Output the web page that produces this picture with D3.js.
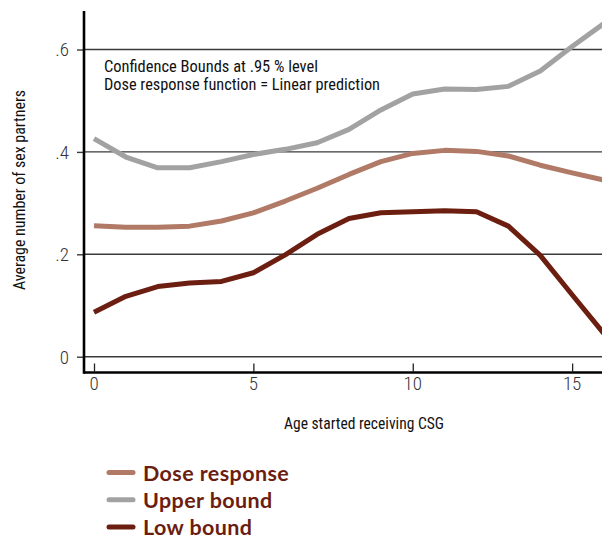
<!DOCTYPE html>
<html>
<head>
<meta charset="utf-8">
<script src="https://cdn.jsdelivr.net/npm/d3@7"></script>
<style>
  html, body { margin: 0; padding: 0; background: #fff; }
  svg { display: block; }
  .narrow { font-family: "Roboto Condensed", "DejaVu Sans Condensed", Roboto, sans-serif; font-stretch: condensed; }
</style>
</head>
<body>
<script>
// Age at which the child support grant (CSG) was first received
const ages = [0, 1, 2, 3, 4, 5, 6, 7, 8, 9, 10, 11, 12, 13, 14, 15, 16];

// Estimated average number of sex partners, with .95 confidence bounds
const doseResponse = [0.256, 0.253, 0.253, 0.255, 0.265, 0.281, 0.304, 0.329, 0.356, 0.381, 0.397, 0.403, 0.401, 0.392, 0.374, 0.359, 0.345];
const upperBound   = [0.426, 0.390, 0.369, 0.369, 0.381, 0.395, 0.405, 0.418, 0.444, 0.482, 0.513, 0.523, 0.522, 0.528, 0.558, 0.606, 0.651];
const lowBound     = [0.087, 0.118, 0.137, 0.144, 0.147, 0.164, 0.199, 0.239, 0.270, 0.281, 0.283, 0.285, 0.283, 0.255, 0.198, 0.121, 0.045];

const xTicks = [0, 5, 10, 15];
const yTicks = [0, 0.2, 0.4, 0.6];
const yTickLabels = ["0", ".2", ".4", ".6"];

const seriesNames = ["Dose response", "Upper bound", "Low bound"];
const seriesColors = ["#b07a67", "#a2a2a2", "#6c1e10"];
const seriesValues = [doseResponse, upperBound, lowBound];

const notes = ["Confidence Bounds at .95 % level", "Dose response function = Linear prediction"];

const W = 602, H = 540;
const svg = d3.select("body").append("svg").attr("width", W).attr("height", H);

const x = d3.scaleLinear().domain([0, 16]).range([94, 604]);
const y = d3.scaleLinear().domain([0, 0.6]).range([356.7, 49.5]);

const axisX = 84, axisY = 372.5, plotTop = 11;

// horizontal gridlines
svg.append("g").selectAll("line").data(yTicks).join("line")
  .attr("x1", axisX).attr("x2", W)
  .attr("y1", d => y(d)).attr("y2", d => y(d))
  .attr("stroke", "#3a3a3a").attr("stroke-width", 1.4);

// y axis with outward ticks
const yAxis = d3.axisLeft(y).tickValues(yTicks)
  .tickFormat((d, i) => yTickLabels[i]).tickSize(7).tickPadding(8);
const gy = svg.append("g").attr("transform", `translate(${axisX},0)`).call(yAxis);
gy.select(".domain").remove();
gy.selectAll(".tick line").attr("stroke", "#3a3a3a").attr("stroke-width", 1.4);
gy.selectAll(".tick text").attr("class", "narrow").attr("font-size", 19)
  .attr("font-weight", 300).attr("fill", "#333").attr("dy", "0.34em");

// x axis with ticks pointing into the plot
const xAxis = d3.axisTop(x).tickValues(xTicks).tickSize(8).tickFormat("");
const gx = svg.append("g").attr("transform", `translate(0,${axisY - 1})`).call(xAxis);
gx.select(".domain").remove();
gx.selectAll(".tick line").attr("stroke", "#222").attr("stroke-width", 1.3);

svg.append("g").selectAll("text").data(xTicks).join("text")
  .attr("class", "narrow")
  .attr("x", d => x(d)).attr("y", 390)
  .attr("text-anchor", "middle").attr("font-size", 19).attr("font-weight", 300).attr("fill", "#333")
  .text(d => d);

// axis lines
svg.append("line").attr("x1", axisX).attr("x2", axisX).attr("y1", plotTop).attr("y2", axisY + 1.2)
  .attr("stroke", "#000").attr("stroke-width", 2.6);
svg.append("line").attr("x1", axisX).attr("x2", W).attr("y1", axisY).attr("y2", axisY)
  .attr("stroke", "#000").attr("stroke-width", 2.6);

// series lines, drawn so the gray upper bound sits behind
const line = d3.line().x((d, i) => x(ages[i])).y(d => y(d));
const drawOrder = [1, 0, 2];
svg.append("g").selectAll("path").data(drawOrder).join("path")
  .attr("d", k => line(seriesValues[k]))
  .attr("fill", "none")
  .attr("stroke", k => seriesColors[k])
  .attr("stroke-width", 5)
  .attr("stroke-linejoin", "round");

// notes
svg.append("g").selectAll("text").data(notes).join("text")
  .attr("class", "narrow")
  .attr("x", 104).attr("y", (d, i) => 72 + i * 18)
  .attr("font-size", 17).attr("fill", "#111")
  .attr("textLength", (d, i) => [214, 276][i])
  .attr("lengthAdjust", "spacingAndGlyphs")
  .text(d => d);

// axis titles
svg.append("text").attr("class", "narrow")
  .attr("transform", "translate(25,190) rotate(-90)")
  .attr("text-anchor", "middle").attr("font-size", 17).attr("fill", "#111")
  .attr("textLength", 200).attr("lengthAdjust", "spacingAndGlyphs")
  .text("Average number of sex partners");

svg.append("text").attr("class", "narrow")
  .attr("x", 364).attr("y", 429)
  .attr("text-anchor", "middle").attr("font-size", 17).attr("fill", "#111")
  .attr("textLength", 160).attr("lengthAdjust", "spacingAndGlyphs")
  .text("Age started receiving CSG");

// legend
const legend = svg.append("g").selectAll("g").data(seriesNames).join("g")
  .attr("transform", (d, i) => `translate(0,${472.5 + i * 27.2})`);
legend.append("line")
  .attr("x1", 109).attr("x2", 133).attr("y1", 0).attr("y2", 0)
  .attr("stroke", (d, i) => seriesColors[i])
  .attr("stroke-width", 5).attr("stroke-linecap", "round");
legend.append("text")
  .attr("x", 143).attr("y", 8)
  .attr("font-family", "Lato, sans-serif").attr("font-weight", 700)
  .attr("font-size", 21.5).attr("letter-spacing", 0.4).attr("fill", "#6b1e10")
  .text(d => d);
</script>
</body>
</html>
